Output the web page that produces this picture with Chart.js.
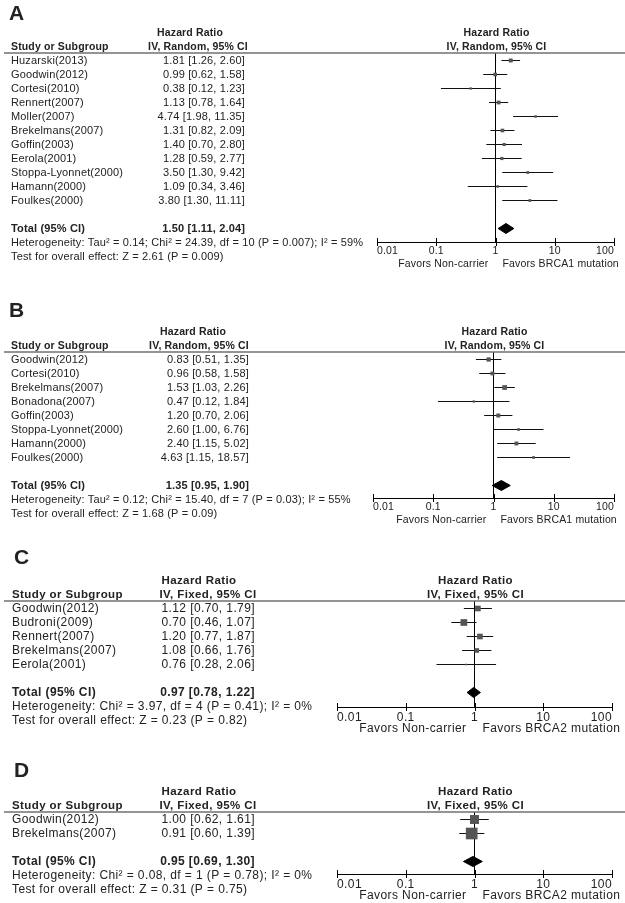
<!DOCTYPE html>
<html>
<head>
<meta charset="utf-8">
<script src="https://cdn.jsdelivr.net/npm/chart.js@4.4.1/dist/chart.umd.min.js"></script>
<style>
  html, body { margin: 0; padding: 0; background: #fff; }
  #page { position: relative; width: 625px; height: 903px; overflow: hidden; }
  #page canvas { position: absolute; left: 0; }
</style>
</head>
<body>
<div id="page">
  <canvas id="panelA" width="625" height="285" style="top:0px"></canvas>
  <canvas id="panelB" width="625" height="255" style="top:285px"></canvas>
  <canvas id="panelC" width="625" height="220" style="top:540px"></canvas>
  <canvas id="panelD" width="625" height="143" style="top:760px"></canvas>
</div>
<script>
/* ---------- Data ---------- */
const tickValues = [0.01, 0.1, 1, 10, 100];
const tickLabels = ['0.01', '0.1', '1', '10', '100'];

// A: BRCA1, random effects
const studiesA = ['Huzarski(2013)', 'Goodwin(2012)', 'Cortesi(2010)', 'Rennert(2007)', 'Moller(2007)',
  'Brekelmans(2007)', 'Goffin(2003)', 'Eerola(2001)', 'Stoppa-Lyonnet(2000)', 'Hamann(2000)', 'Foulkes(2000)'];
const hrA   = [1.81, 0.99, 0.38, 1.13, 4.74, 1.31, 1.40, 1.28, 3.50, 1.09, 3.80];
const lowA  = [1.26, 0.62, 0.12, 0.78, 1.98, 0.82, 0.70, 0.59, 1.30, 0.34, 1.30];
const highA = [2.60, 1.58, 1.23, 1.64, 11.35, 2.09, 2.80, 2.77, 9.42, 3.46, 11.11];
const weightA = [14, 12, 5, 13, 6, 12, 9, 9, 7, 6, 7];
const totalA = [1.50, 1.11, 2.04];
const hetA = 'Heterogeneity: Tau² = 0.14; Chi² = 24.39, df = 10 (P = 0.007); I² = 59%';
const testA = 'Test for overall effect: Z = 2.61 (P = 0.009)';

// B: BRCA1, random effects
const studiesB = ['Goodwin(2012)', 'Cortesi(2010)', 'Brekelmans(2007)', 'Bonadona(2007)', 'Goffin(2003)',
  'Stoppa-Lyonnet(2000)', 'Hamann(2000)', 'Foulkes(2000)'];
const hrB   = [0.83, 0.96, 1.53, 0.47, 1.20, 2.60, 2.40, 4.63];
const lowB  = [0.51, 0.58, 1.03, 0.12, 0.70, 1.00, 1.15, 1.15];
const highB = [1.35, 1.58, 2.26, 1.84, 2.06, 6.76, 5.02, 18.57];
const weightB = [17, 14, 21, 5, 15, 7, 14, 7];
const totalB = [1.35, 0.95, 1.90];
const hetB = 'Heterogeneity: Tau² = 0.12; Chi² = 15.40, df = 7 (P = 0.03); I² = 55%';
const testB = 'Test for overall effect: Z = 1.68 (P = 0.09)';

// C: BRCA2, fixed effect
const studiesC = ['Goodwin(2012)', 'Budroni(2009)', 'Rennert(2007)', 'Brekelmans(2007)', 'Eerola(2001)'];
const hrC   = [1.12, 0.70, 1.20, 1.08, 0.76];
const lowC  = [0.70, 0.46, 0.77, 0.66, 0.28];
const highC = [1.79, 1.07, 1.87, 1.76, 2.06];
const weightC = [24, 34, 24, 16, 2];
const totalC = [0.97, 0.78, 1.22];
const hetC = 'Heterogeneity: Chi² = 3.97, df = 4 (P = 0.41); I² = 0%';
const testC = 'Test for overall effect: Z = 0.23 (P = 0.82)';

// D: BRCA2, fixed effect
const studiesD = ['Goodwin(2012)', 'Brekelmans(2007)'];
const hrD   = [1.00, 0.91];
const lowD  = [0.62, 0.60];
const highD = [1.61, 1.39];
const weightD = [37, 63];
const totalD = [0.95, 0.69, 1.30];
const hetD = 'Heterogeneity: Chi² = 0.08, df = 1 (P = 0.78); I² = 0%';
const testD = 'Test for overall effect: Z = 0.31 (P = 0.75)';

/* ---------- Panel layout ---------- */
const FAM = '"Liberation Sans", Arial, Helvetica, sans-serif';
Chart.defaults.font.family = FAM;

const small = { fs: 11, hfs: 10.5, afs: 10.5, ls: 0.15, favGap: 7, nameX: 11, letterX: 9 };
const large = { fs: 12, hfs: 11.5, afs: 12, ls: 0.4, favGap: 8, nameX: 12, letterX: 14 };

const panels = [
  Object.assign({}, small, { id: 'panelA', top: 0, h: 285, letter: 'A', letterBase: 20,
    lineY: 53, axisY: 242, axisL: 377, axisR: 614, valR: 245, hdrX1: 190, hdrX2: 198, box: 1.05,
    model: 'IV, Random, 95% CI', favR: 'Favors BRCA1 mutation',
    names: studiesA, hr: hrA, lo: lowA, hi: highA, w: weightA, total: totalA, het: hetA, test: testA }),
  Object.assign({}, small, { id: 'panelB', top: 285, h: 255, letter: 'B', letterBase: 317,
    lineY: 352, axisY: 498, axisL: 373, axisR: 614, valR: 249, hdrX1: 193, hdrX2: 199, box: 1.03,
    model: 'IV, Random, 95% CI', favR: 'Favors BRCA1 mutation',
    names: studiesB, hr: hrB, lo: lowB, hi: highB, w: weightB, total: totalB, het: hetB, test: testB }),
  Object.assign({}, large, { id: 'panelC', top: 540, h: 220, letter: 'C', letterBase: 564,
    lineY: 601, axisY: 707, axisL: 337, axisR: 612, valR: 255, hdrX1: 199, hdrX2: 208, box: 1.15,
    model: 'IV, Fixed, 95% CI', favR: 'Favors BRCA2 mutation',
    names: studiesC, hr: hrC, lo: lowC, hi: highC, w: weightC, total: totalC, het: hetC, test: testC }),
  Object.assign({}, large, { id: 'panelD', top: 760, h: 143, letter: 'D', letterBase: 777,
    lineY: 812, axisY: 874, axisL: 337, axisR: 612, valR: 255, hdrX1: 199, hdrX2: 208, box: 1.47,
    model: 'IV, Fixed, 95% CI', favR: 'Favors BRCA2 mutation',
    names: studiesD, hr: hrD, lo: lowD, hi: highD, w: weightD, total: totalD, het: hetD, test: testD })
];

const SCALE_H = 26;
const ROW_H = 14;                 // pixels per row
const fmt = (v, lo, hi) => `${v.toFixed(2)} [${lo.toFixed(2)}, ${hi.toFixed(2)}]`;
const font = (size, bold) => (bold ? 'bold ' : '') + size + 'px ' + FAM;

/* ---------- Text, header rule and axis ticks ---------- */
function textPlugin(P) {
  return {
    id: 'panelText',
    beforeDraw(chart) {
      chart.ctx.letterSpacing = P.ls + 'px';
    },
    afterDraw(chart) {
      const { ctx, chartArea: ca } = chart;
      const xs = chart.scales.x, ys = chart.scales.y;
      const x1 = xs.getPixelForValue(1);
      const n = P.names.length;

      ctx.save();
      ctx.letterSpacing = P.ls + 'px';
      ctx.fillStyle = '#222';

      // panel letter
      ctx.font = font(21, true);
      ctx.textAlign = 'left';
      ctx.textBaseline = 'alphabetic';
      ctx.fillText(P.letter, P.letterX, P.letterBase - P.top);

      // header rule
      ctx.strokeStyle = '#707070';
      ctx.lineWidth = 1.5;
      ctx.beginPath();
      ctx.moveTo(4, ca.top);
      ctx.lineTo(625, ca.top);
      ctx.stroke();

      // headers
      ctx.textBaseline = 'middle';
      ctx.font = font(P.hfs, true);
      ctx.textAlign = 'left';
      ctx.fillText('Study or Subgroup', P.nameX, ca.top - 6);
      ctx.textAlign = 'center';
      ctx.fillText('Hazard Ratio', P.hdrX1, ca.top - 20);
      ctx.fillText(P.model, P.hdrX2, ca.top - 6);
      ctx.fillText('Hazard Ratio', x1 + 1, ca.top - 20);
      ctx.fillText(P.model, x1 + 1, ca.top - 6);

      // study rows
      ctx.font = font(P.fs);
      P.names.forEach((name, i) => {
        const y = ys.getPixelForValue(i);
        ctx.textAlign = 'left';
        ctx.fillText(name, P.nameX, y);
        ctx.textAlign = 'right';
        ctx.fillText(fmt(P.hr[i], P.lo[i], P.hi[i]), P.valR, y);
      });

      // total row
      const ty = ys.getPixelForValue(n + 1);
      ctx.font = font(P.fs, true);
      ctx.textAlign = 'left';
      ctx.fillText('Total (95% CI)', P.nameX, ty);
      ctx.textAlign = 'right';
      ctx.fillText(fmt(P.total[0], P.total[1], P.total[2]), P.valR, ty);

      // heterogeneity / overall effect
      ctx.font = font(P.fs);
      ctx.textAlign = 'left';
      ctx.fillText(P.het, P.nameX, ty + 14.5);
      ctx.fillText(P.test, P.nameX, ty + 28.5);

      // favours labels
      ctx.font = font(P.afs);
      ctx.textAlign = 'right';
      ctx.fillText('Favors Non-carrier', x1 - P.favGap, ca.bottom + 22);
      ctx.textAlign = 'left';
      ctx.fillText(P.favR, x1 + P.favGap, ca.bottom + 22);

      // tick marks crossing the axis
      ctx.strokeStyle = '#000';
      ctx.lineWidth = 1;
      xs.ticks.forEach(t => {
        const px = Math.round(xs.getPixelForValue(t.value)) + 0.5;
        ctx.beginPath();
        ctx.moveTo(px, ca.bottom - 4);
        ctx.lineTo(px, ca.bottom + 4);
        ctx.stroke();
      });
      ctx.restore();
    }
  };
}

/* ---------- Forest plot per panel ---------- */
function buildPanel(P) {
  const n = P.names.length;
  const ti = n + 1;               // row index of the pooled estimate
  const yMin = -7.5 / ROW_H;      // rows land on half pixels
  const yMax = yMin + (P.axisY - P.lineY) / ROW_H;
  const dh = 0.36;                // diamond half height (rows)

  const datasets = [];
  // study boxes (on top)
  datasets.push({
    type: 'line', showLine: false,
    data: P.hr.map((v, i) => ({ x: v, y: i })),
    pointStyle: 'rect',
    pointRadius: P.w.map(w => P.box * Math.sqrt(w) / Math.SQRT2),
    pointBackgroundColor: '#555', pointBorderWidth: 0
  });
  // confidence intervals
  P.lo.forEach((lo, i) => {
    datasets.push({
      type: 'line', data: [{ x: lo, y: i }, { x: P.hi[i], y: i }],
      borderColor: '#111', borderWidth: 1, pointRadius: 0, fill: false
    });
  });
  // pooled diamond
  const [tHr, tLo, tHi] = P.total;
  datasets.push({
    type: 'line',
    data: [{ x: tLo, y: ti }, { x: tHr, y: ti - dh }, { x: tHi, y: ti }, { x: tHr, y: ti + dh }, { x: tLo, y: ti }],
    borderColor: '#000', backgroundColor: '#000', borderWidth: 1, pointRadius: 0, fill: 'shape'
  });
  // line of no effect
  datasets.push({
    type: 'line', data: [{ x: 1, y: yMin }, { x: 1, y: yMax }],
    borderColor: '#000', borderWidth: 1, pointRadius: 0, fill: false
  });

  const canvasBottom = P.top + P.h;
  return new Chart(document.getElementById(P.id), {
    type: 'line',
    data: { datasets },
    options: {
      responsive: false, animation: false, devicePixelRatio: 1, events: [],
      layout: {
        autoPadding: false,
        padding: {
          left: P.axisL, right: 625 - P.axisR,
          top: P.lineY - P.top, bottom: canvasBottom - P.axisY - SCALE_H
        }
      },
      plugins: { legend: { display: false }, tooltip: { enabled: false } },
      scales: {
        x: {
          type: 'logarithmic', position: 'bottom', min: 0.01, max: 100,
          afterBuildTicks: s => { s.ticks = tickValues.map(v => ({ value: v })); },
          afterFit: s => { s.height = SCALE_H; },
          grid: { display: false, drawTicks: false },
          border: { display: true, color: '#000', width: 1 },
          ticks: {
            autoSkip: false, maxRotation: 0, align: 'inner', padding: 3,
            color: '#222', font: { family: FAM, size: P.afs },
            callback: (v, i) => tickLabels[i]
          }
        },
        y: { type: 'linear', min: yMin, max: yMax, reverse: true, display: false }
      }
    },
    plugins: [textPlugin(P)]
  });
}

panels.forEach(buildPanel);
</script>
</body>
</html>
